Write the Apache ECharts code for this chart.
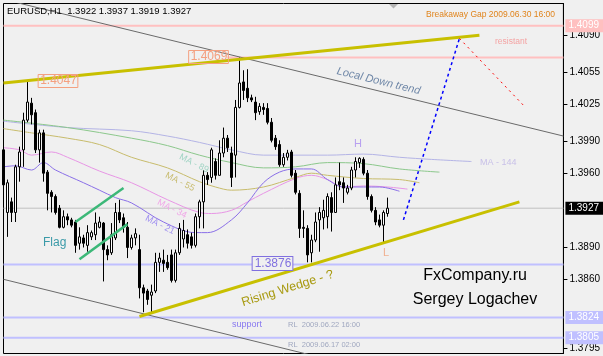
<!DOCTYPE html>
<html><head><meta charset="utf-8">
<script src="https://cdn.jsdelivr.net/npm/echarts@6/dist/echarts.min.js"></script>
<style>html,body{margin:0;padding:0;background:#f0f0f0}#c{width:603px;height:356px}</style>
</head><body><div id="c"></div>
<script>
// ---- bar slots (hourly bars, plus empty slots to the right) ----
const categories = Array.from({length: 141}, (_, i) => String(i));

// ---- EURUSD H1 candles ----
const opens = [1.3982,1.3923,1.3933,1.3923,1.3966,1.3982,1.4010,1.4026,1.4017,1.3982,
1.3998,1.3961,1.3942,1.3938,1.3927,1.3909,1.3919,1.3916,1.3914,1.3894,
1.3899,1.3892,1.3900,1.3902,1.3909,1.3913,1.3888,1.3885,1.3899,1.3923,
1.3918,1.3909,1.3890,1.3899,1.3888,1.3852,1.3849,1.3845,1.3849,1.3876,
1.3878,1.3876,1.3883,1.3859,1.3885,1.3898,1.3902,1.3900,1.3892,1.3919,
1.3933,1.3958,1.3956,1.3971,1.3958,1.3979,1.3993,1.3979,1.3977,1.4022,
1.4046,1.4040,1.4031,1.4027,1.4018,1.4022,1.4021,1.4008,1.3993,1.3987,
1.3968,1.3975,1.3980,1.3960,1.3941,1.3909,1.3908,1.3885,1.3897,1.3916,
1.3918,1.3919,1.3937,1.3923,1.3952,1.3951,1.3942,1.3946,1.3963,1.3970,
1.3973,1.3960,1.3938,1.3925,1.3916,1.3911,1.3922];
const closes = [1.3949,1.3951,1.3923,1.3966,1.3980,1.4010,1.4027,1.4015,1.3982,1.3998,
1.3960,1.3941,1.3938,1.3923,1.3909,1.3919,1.3916,1.3911,1.3892,1.3900,
1.3894,1.3904,1.3904,1.3913,1.3914,1.3888,1.3883,1.3902,1.3923,1.3916,
1.3909,1.3890,1.3899,1.3903,1.3852,1.3847,1.3841,1.3848,1.3876,1.3880,
1.3875,1.3871,1.3859,1.3885,1.3908,1.3906,1.3894,1.3892,1.3919,1.3933,
1.3958,1.3954,1.3982,1.3958,1.3979,1.3993,1.3984,1.3956,1.4022,1.4045,
1.4038,1.4031,1.4029,1.4017,1.4023,1.4020,1.4008,1.3991,1.3985,1.3968,
1.3975,1.3979,1.3958,1.3942,1.3908,1.3908,1.3883,1.3897,1.3914,1.3923,
1.3925,1.3938,1.3923,1.3949,1.3949,1.3946,1.3946,1.3963,1.3971,1.3974,
1.3960,1.3938,1.3925,1.3914,1.3911,1.3923,1.3927];
const lows = [1.3946,1.3900,1.3914,1.3914,1.3952,1.3966,1.4008,1.4006,1.3979,1.3970,
1.3952,1.3925,1.3923,1.3921,1.3908,1.3908,1.3911,1.3909,1.3885,1.3888,
1.3890,1.3886,1.3897,1.3897,1.3908,1.3858,1.3878,1.3883,1.3897,1.3913,
1.3904,1.3880,1.3888,1.3892,1.3842,1.3829,1.3836,1.3829,1.3847,1.3867,
1.3867,1.3869,1.3857,1.3857,1.3883,1.3890,1.3889,1.3889,1.3890,1.3908,
1.3908,1.3949,1.3951,1.3954,1.3958,1.3975,1.3980,1.3947,1.3956,1.4021,
1.4029,1.4027,1.4027,1.4010,1.4015,1.4015,1.4006,1.3989,1.3982,1.3966,
1.3966,1.3972,1.3956,1.3940,1.3899,1.3899,1.3876,1.3876,1.3895,1.3886,
1.3907,1.3908,1.3905,1.3923,1.3944,1.3932,1.3940,1.3944,1.3956,1.3965,
1.3958,1.3935,1.3923,1.3911,1.3909,1.3894,1.3919];
const highs = [1.3985,1.3954,1.3937,1.3968,1.3985,1.4017,1.4047,1.4031,1.4020,1.4001,
1.4001,1.3963,1.3944,1.3940,1.3930,1.3925,1.3922,1.3918,1.3916,1.3909,
1.3902,1.3911,1.3906,1.3923,1.3919,1.3914,1.3892,1.3913,1.3932,1.3935,
1.3922,1.3914,1.3902,1.3908,1.3902,1.3855,1.3851,1.3855,1.3885,1.3885,
1.3888,1.3883,1.3888,1.3888,1.3913,1.3916,1.3907,1.3904,1.3922,1.3935,
1.3963,1.3961,1.3984,1.3974,1.3991,1.4003,1.3996,1.3985,1.4029,1.4069,
1.4057,1.4058,1.4034,1.4032,1.4026,1.4026,1.4026,1.4012,1.3996,1.3991,
1.3979,1.3982,1.3982,1.3963,1.3944,1.3925,1.3911,1.3902,1.3923,1.3928,
1.3935,1.3941,1.3942,1.3956,1.3970,1.3956,1.3949,1.3966,1.3975,1.3975,
1.3975,1.3963,1.3940,1.3928,1.3921,1.3925,1.3937];

// ---- shifted moving averages: [bar, price] ----
const ma21 = [[0,1.3966],[3,1.3967],[7,1.3963],[10,1.3970],[13,1.3963],[20,1.3951],[24,1.3944],[28,1.3937],[32,1.3932],[40,1.3914],[48,1.3904],[51,1.3904],[57,1.3916],[61,1.3932],[65,1.3951],[69,1.3961],[73,1.3964],[77,1.3964],[81,1.3954],[85,1.3947],[90,1.3947],[94,1.3947],[99,1.3943]];
const ma34 = [[0,1.3984],[4,1.3982],[7,1.3977],[12,1.3980],[16,1.3975],[24,1.3962],[32,1.3951],[41,1.3935],[49,1.3923],[52,1.3922],[57,1.3925],[61,1.3933],[65,1.3941],[73,1.3955],[77,1.3958],[81,1.3954],[85,1.3947],[90,1.3948],[96,1.3947],[101,1.3945]];
const ma55 = [[0,1.4002],[7,1.3998],[16,1.3993],[24,1.3987],[32,1.3975],[41,1.3965],[49,1.3952],[53,1.3947],[57,1.3944],[65,1.3947],[73,1.3956],[77,1.3960],[81,1.3958],[90,1.3955],[99,1.3954],[104,1.3951]];
const ma89 = [[0,1.4010],[16,1.4003],[32,1.3993],[41,1.3986],[49,1.3977],[57,1.3970],[65,1.3965],[73,1.3966],[81,1.3970],[90,1.3969],[99,1.3964],[109,1.3961]];
const ma144 = [[0,1.4009],[16,1.4003],[32,1.4000],[41,1.3995],[49,1.3989],[57,1.3982],[65,1.3977],[81,1.3977],[90,1.3978],[99,1.3975],[107,1.3973],[117,1.3971]];

// ---- drawn trend lines: [bar, price] end points ----
const wedgeUpper = [[0,1.4045],[119,1.4090]];
const wedgeLower = [[34,1.3825],[129,1.3933]];
const channelUpper = [[2,1.4122],[140,1.3995]];
const channelLower = [[0,1.3860],[140,1.3730]];
const flagUpper = [[18,1.3914],[30,1.3946]];
const flagLower = [[19,1.3879],[31,1.3912]];
const forecastUp = [[100,1.3916],[114,1.4087]];
const forecastDown = [[114,1.4087],[130,1.4024]];

// ---- horizontal levels ----
const gapLevel = 1.4099;
const highLevel = 1.4069;
const lowLevel = 1.3874;
const supportLevel = 1.3824;
const support2Level = 1.3805;
const bidLevel = 1.3927;

// ---- price scale tick labels ----
const yTickLabels = [1.3795, 1.3860, 1.3890, 1.3960, 1.3990, 1.4025, 1.4055, 1.4090];

const FF = '"Liberation Sans", Arial, sans-serif';
const candles = opens.map((o, i) => [o, closes[i], lows[i], highs[i]]);
const firstBar = 0, lastBar = categories.length - 1;

function seg(data, color, width, type, z) {
  return {type:'line', data, symbol:'none', silent:true, z: z||5, clip:true,
    lineStyle:{color, width, type: type||'solid'}};
}
function level(value, fromBar, color, width, boxText, boxBg) {
  const s = seg([[fromBar, value],[lastBar, value]], color, width, 'solid', 1);
  if (boxText) {
    s.endLabel = {show:true, distance:2, formatter:boxText, color:'#fff',
      backgroundColor:boxBg, padding:[2,4,1,3], fontSize:10, fontFamily:FF};
  }
  return s;
}
function maLine(data, color) {
  return {type:'line', data, symbol:'none', smooth:0.35, silent:true, z:3, clip:true,
    lineStyle:{color, width:1}};
}
const deg = Math.PI/180;
function mk(x, y, text, font, fill, style, rot) {
  return {type:'text', x, y, z:20, silent:true, rotation: rot||0,
    style:Object.assign({text, font, fill, align:'left', verticalAlign:'middle'}, style||{})};
}

const chart = echarts.init(document.getElementById('c'), null, {renderer:'canvas'});
chart.setOption({
  animation:false,
  backgroundColor:'#f0f0f0',
  textStyle:{fontFamily:FF},
  grid:{left:3.5, right:39.5, top:3.5, bottom:2.5, show:true, borderColor:'#000', borderWidth:1, backgroundColor:'transparent'},
  xAxis:{type:'category', data:categories, boundaryGap:false, show:false},
  yAxis:{type:'value', position:'right', min:1.37901, max:1.41199, scale:true,
    axisLine:{show:true, lineStyle:{color:'#000', width:1}},
    axisTick:{show:true, length:4, customValues:yTickLabels, lineStyle:{color:'#000'}},
    axisLabel:{show:true, customValues:yTickLabels, formatter:v=>Number(v).toFixed(4), color:'#000', fontSize:10, margin:6, fontFamily:FF},
    splitLine:{show:false}},
  series:[
    level(gapLevel, firstBar, '#ffc0c0', 2, '1.4099', '#ffc0c0'),
    level(highLevel, 56, '#ffc0c0', 2),
    level(lowLevel, firstBar, '#c0c0ff', 2),
    level(supportLevel, firstBar, '#c0c0ff', 2, '1.3824', '#c0c0ff'),
    level(support2Level, firstBar, '#c0c0ff', 2, '1.3805', '#c0c0ff'),
    level(bidLevel, firstBar, '#c0c0c0', 1, '1.3927', '#000000'),
    {type:'candlestick', data:candles, barWidth:2, z:4,
      itemStyle:{color:'#ffffff', color0:'#000000', borderColor:'#000000', borderColor0:'#000000', borderWidth:1}},
    maLine(ma144,'#b4b4e6'),
    maLine(ma89,'#8cc88c'),
    maLine(ma55,'#c8bc6c'),
    maLine(ma34,'#e896e6'),
    maLine(ma21,'#8a6fe8'),
    seg(channelUpper,'#6a6a6a',1),
    seg(channelLower,'#6a6a6a',1),
    seg(wedgeUpper,'#c8c000',3,'solid',6),
    seg(wedgeLower,'#c8c000',3,'solid',6),
    seg(flagUpper,'#3cb878',2.5),
    seg(flagLower,'#3cb878',2.5),
    seg(forecastUp,'#0000ff',1.5,[3,3],7),
    seg(forecastDown,'#ff0000',1,[2,4],7)
  ],
  graphic:[
    {type:'polygon', z:20, silent:true, shape:{points:[[389,4],[398,4],[393.5,8.5]]}, style:{fill:'#b4b4b4'}},
    mk(7,11,'EURUSD,H1  1.3922 1.3937 1.3919 1.3927','9.5px '+FF,'#000'),
    mk(426,15,'Breakaway Gap 2009.06.30 16:00','8.5px '+FF,'#e0841c'),
    mk(495,42,'resistant','8.5px '+FF,'#f4a4a4'),
    mk(337,71,'Local Down trend','italic 11px '+FF,'#7088a8',null,-13.7*deg),
    mk(242,303,'Rising Wedge - ?','12.5px '+FF,'#a89a10',null,17.5*deg),
    mk(194,163.5,'MA - 89','9px '+FF,'#a0d4c4',{align:'center'},-27*deg),
    mk(180,182,'MA - 55','9px '+FF,'#c8bc70',{align:'center'},-27*deg),
    mk(172,209,'MA - 34','9px '+FF,'#f0a8e8',{align:'center'},-27*deg),
    mk(160,225,'MA - 21','9px '+FF,'#a090f0',{align:'center'},-27*deg),
    mk(480,163,'MA - 144','9px '+FF,'#c8c0e8'),
    mk(358,144,'H','11px '+FF,'#b8a0f0',{align:'center'}),
    mk(386,253,'L','11px '+FF,'#f0b090',{align:'center'}),
    mk(43,243,'Flag','12px '+FF,'#3a9aa8'),
    mk(475,276,'FxCompany.ru','16px '+FF,'#000',{align:'center'}),
    mk(475,300,'Sergey Logachev','16px '+FF,'#000',{align:'center'}),
    mk(232,325,'support','9px '+FF,'#8878f0'),
    mk(288,324.5,'RL  2009.06.22 16:00','7.5px '+FF,'#a0a8c0'),
    mk(288,345,'RL  2009.06.17 02:00','7.5px '+FF,'#a0a8c0'),
    mk(58,81,'1.4047','12px '+FF,'#f4a080',{align:'center', borderColor:'#f4a080', borderWidth:1, padding:[1,1,0,2]}),
    mk(208.5,57,'1.4069','12px '+FF,'#f4a080',{align:'center', borderColor:'#f4a080', borderWidth:1, padding:[1,1,0,2]}),
    mk(272.5,263.5,'1.3876','12px '+FF,'#8070e0',{align:'center', borderColor:'#8070e0', borderWidth:1, backgroundColor:'#f0f0f0', padding:[1,1,0,2]})
  ]
});
</script></body></html>
